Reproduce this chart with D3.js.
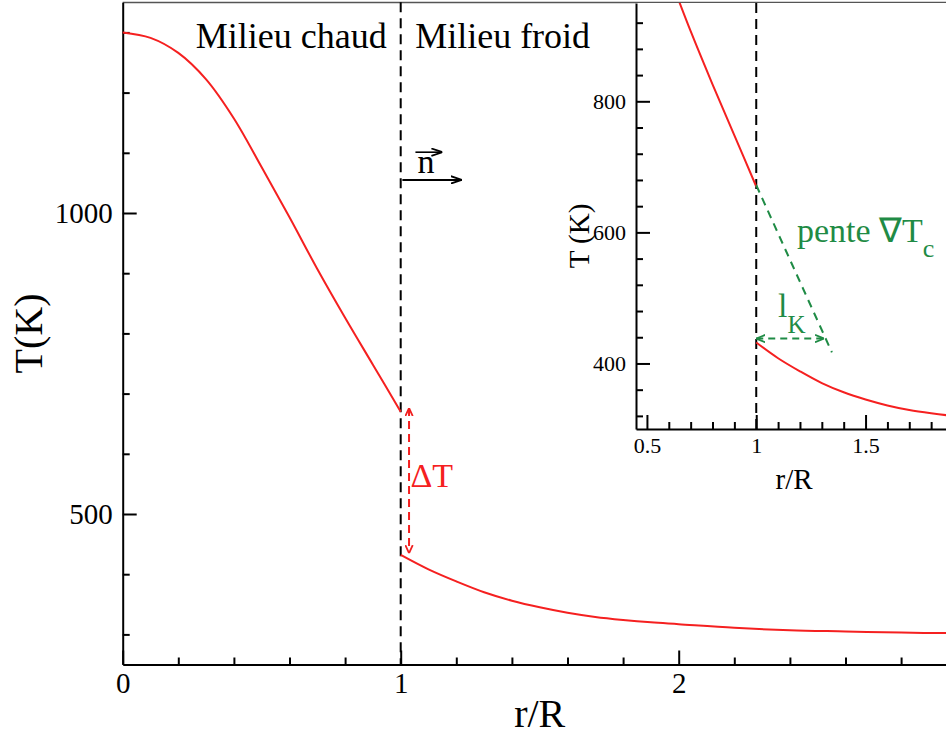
<!DOCTYPE html>
<html><head><meta charset="utf-8">
<script src="https://cdn.jsdelivr.net/npm/d3@7"></script>
<style>
body{margin:0;background:#fff}
svg{display:block}
text{font-family:"Liberation Serif","Times New Roman",serif}
</style>
</head><body>
<svg id="c" width="946" height="735"></svg>
<script>
// ---- data ----
const rHot  = [0, 0.1, 0.2, 0.3, 0.4, 0.5, 0.6, 0.7, 0.8, 0.9, 1.0];
const tHot  = [1300, 1291, 1266, 1222, 1157, 1076, 993, 907, 826, 748, 670];
const rCold = [1.0, 1.1, 1.2, 1.3, 1.4, 1.5, 1.6, 1.7, 1.8, 1.9, 2.0, 2.2, 2.4, 2.6, 2.8, 3.0];
const tCold = [432, 408, 388, 370, 356, 345, 336, 329, 324, 320, 317, 311, 307, 305, 303, 302];
const tangentR = [1.0, 1.346];
const tangentT = [672, 417];
const lkR = [1.0, 1.31];
const lkT = [438, 438];
const deltaR = 1.03;
const deltaT = [676, 435];

const mainXTicks = [0, 1, 2];
const mainYTicks = [500, 1000];
const insetXTicks = [0.5, 1, 1.5];
const insetYTicks = [400, 600, 800];

const svg = d3.select("#c");
const defs = svg.append("defs");
function marker(id, color, w, h){
  const m = defs.append("marker").attr("id", id).attr("viewBox", `0 0 ${w} ${h}`)
    .attr("refX", w).attr("refY", h/2).attr("markerWidth", w).attr("markerHeight", h)
    .attr("markerUnits", "userSpaceOnUse").attr("orient", "auto-start-reverse");
  m.append("path").attr("d", `M0,0.8 L${w},${h/2} L0,${h-0.8}`).attr("fill", "none")
    .attr("stroke", color).attr("stroke-width", 1.8);
}
marker("arrRed", "#f02020", 8, 9);
marker("arrGreen", "#1f8b45", 9, 9);
marker("arrBlack", "#000", 11, 9);

const red = "#f52020", green = "#1f8b45";

// ---- main plot ----
const x = d3.scaleLinear().domain([0, 3]).range([122.7, 956.7]);
const y = d3.scaleLinear().domain([250, 1350]).range([664.5, 2.3]);

function styleAxis(g, fs){
  g.selectAll(".domain").attr("stroke", "#000").attr("stroke-width", 2);
  g.selectAll(".tick line").attr("stroke", "#000").attr("stroke-width", 2);
  g.selectAll("text").attr("font-size", fs).attr("fill", "#000")
    .style("font-family", '"Liberation Serif","Times New Roman",serif');
}

const range = (a, b, s) => d3.range(Math.round(a/s), Math.round(b/s)+1).map(i => +(i*s).toFixed(4));

// top border
svg.append("line").attr("x1", 122.7).attr("x2", 946).attr("y1", 2.6).attr("y2", 2.6)
  .attr("stroke", "#555").attr("stroke-width", 1.5);

const gxm = svg.append("g").attr("transform", `translate(0,${y.range()[0]})`)
  .call(d3.axisBottom(x).tickValues(range(0, 3, 0.2).filter(v => Math.abs(v - Math.round(v)) > 1e-6))
    .tickSizeInner(-7).tickSizeOuter(0).tickFormat(""));
gxm.select(".domain").remove(); styleAxis(gxm, 29);
const gx = svg.append("g").attr("transform", `translate(0,${y.range()[0]})`)
  .call(d3.axisBottom(x).tickValues(mainXTicks).tickSizeInner(-14).tickSizeOuter(0).tickPadding(8).tickFormat(d3.format("d")));
styleAxis(gx, 29);

const gym = svg.append("g").attr("transform", `translate(${x.range()[0]},0)`)
  .call(d3.axisLeft(y).tickValues(range(300, 1300, 100).filter(v => v % 500 !== 0))
    .tickSizeInner(-7).tickSizeOuter(0).tickFormat(""));
gym.select(".domain").remove(); styleAxis(gym, 29);
const gy = svg.append("g").attr("transform", `translate(${x.range()[0]},0)`)
  .call(d3.axisLeft(y).tickValues(mainYTicks).tickSizeInner(-14).tickSizeOuter(0).tickPadding(10).tickFormat(d3.format("d")));
styleAxis(gy, 29);

// axis titles
svg.append("text").attr("x", (x.range()[0] + x.range()[1]) / 2).attr("y", 727)
  .attr("text-anchor", "middle").attr("font-size", 40).text("r/R");
svg.append("text").attr("transform", `translate(42,${(y.range()[0] + y.range()[1]) / 2}) rotate(-90)`)
  .attr("text-anchor", "middle").attr("font-size", 40).text("T(K)");

// interface line
svg.append("line").attr("x1", x(1)).attr("x2", x(1)).attr("y1", y.range()[1]).attr("y2", y.range()[0])
  .attr("stroke", "#000").attr("stroke-width", 2).attr("stroke-dasharray", "10,6");

const line = d3.line().curve(d3.curveCatmullRom.alpha(0.5));
const hotPts = rHot.map((r, i) => [r, tHot[i]]);
const coldPts = rCold.map((r, i) => [r, tCold[i]]);
svg.append("path").attr("d", line(hotPts.map(p => [x(p[0]), y(p[1])])))
  .attr("fill", "none").attr("stroke", red).attr("stroke-width", 2);
svg.append("path").attr("d", line(coldPts.map(p => [x(p[0]), y(p[1])])))
  .attr("fill", "none").attr("stroke", red).attr("stroke-width", 2);

// labels
svg.append("text").attr("x", x(0.95)).attr("y", y(1274)).attr("text-anchor", "end")
  .attr("font-size", 36).text("Milieu chaud");
svg.append("text").attr("x", x(1.052)).attr("y", y(1274)).attr("font-size", 36).text("Milieu froid");

// delta T arrow
svg.append("line").attr("x1", x(deltaR)).attr("x2", x(deltaR)).attr("y1", y(deltaT[0])).attr("y2", y(deltaT[1]))
  .attr("stroke", red).attr("stroke-width", 2).attr("stroke-dasharray", "8,5")
  .attr("marker-start", "url(#arrRed)").attr("marker-end", "url(#arrRed)");
svg.append("text").attr("x", x(1.035)).attr("y", y(545)).attr("font-size", 34).attr("fill", red).text("ΔT");

// normal vector n
svg.append("line").attr("x1", x(1.006)).attr("x2", x(1.22)).attr("y1", y(1055)).attr("y2", y(1055))
  .attr("stroke", "#000").attr("stroke-width", 2).attr("marker-end", "url(#arrBlack)");
svg.append("text").attr("x", x(1.06)).attr("y", y(1066)).attr("font-size", 34).text("n");
svg.append("line").attr("x1", x(1.053)).attr("x2", x(1.15)).attr("y1", y(1101)).attr("y2", y(1101))
  .attr("stroke", "#000").attr("stroke-width", 1.6).attr("marker-end", "url(#arrBlack)");

// ---- inset ----
const xi = d3.scaleLinear().domain([0.45, 1.9]).range([636, 953]);
const yi = d3.scaleLinear().domain([300, 950]).range([429, 3]);
svg.append("rect").attr("x", 636).attr("y", 3).attr("width", 320).attr("height", 426).attr("fill", "#fff");

const ixm = svg.append("g").attr("transform", `translate(0,${yi.range()[0]})`)
  .call(d3.axisBottom(xi).tickValues(range(0.5, 1.9, 0.1).filter(v => Math.abs(v*2 - Math.round(v*2)) > 1e-6))
    .tickSizeInner(-7).tickSizeOuter(0).tickFormat(""));
ixm.select(".domain").remove(); styleAxis(ixm, 22);
const ix = svg.append("g").attr("transform", `translate(0,${yi.range()[0]})`)
  .call(d3.axisBottom(xi).tickValues(insetXTicks).tickSizeInner(-14).tickSizeOuter(0).tickPadding(8).tickFormat(d => String(d)));
styleAxis(ix, 22);
const iym = svg.append("g").attr("transform", `translate(${xi.range()[0]},0)`)
  .call(d3.axisLeft(yi).tickValues(range(320, 920, 40).filter(v => v % 200 !== 0))
    .tickSizeInner(-7).tickSizeOuter(0).tickFormat(""));
iym.select(".domain").remove(); styleAxis(iym, 22);
const iy = svg.append("g").attr("transform", `translate(${xi.range()[0]},0)`)
  .call(d3.axisLeft(yi).tickValues(insetYTicks).tickSizeInner(-14).tickSizeOuter(0).tickPadding(10).tickFormat(d3.format("d")));
styleAxis(iy, 22);

svg.append("text").attr("x", 794).attr("y", 489).attr("text-anchor", "middle").attr("font-size", 29).text("r/R");
svg.append("text").attr("transform", `translate(589,236) rotate(-90)`)
  .attr("text-anchor", "middle").attr("font-size", 29).text("T (K)");

const clip = defs.append("clipPath").attr("id", "insetClip");
clip.append("rect").attr("x", 636).attr("y", 3).attr("width", 320).attr("height", 426);
const gi = svg.append("g").attr("clip-path", "url(#insetClip)");
gi.append("line").attr("x1", xi(1)).attr("x2", xi(1)).attr("y1", yi.range()[1]).attr("y2", yi.range()[0])
  .attr("stroke", "#000").attr("stroke-width", 2).attr("stroke-dasharray", "10,6");
gi.append("path").attr("d", line(hotPts.map(p => [xi(p[0]), yi(p[1])])))
  .attr("fill", "none").attr("stroke", red).attr("stroke-width", 2);
gi.append("path").attr("d", line(coldPts.map(p => [xi(p[0]), yi(p[1])])))
  .attr("fill", "none").attr("stroke", red).attr("stroke-width", 2);
gi.append("line").attr("x1", xi(tangentR[0])).attr("x2", xi(tangentR[1])).attr("y1", yi(tangentT[0])).attr("y2", yi(tangentT[1]))
  .attr("stroke", green).attr("stroke-width", 2).attr("stroke-dasharray", "8,6");
gi.append("line").attr("x1", xi(lkR[0])).attr("x2", xi(lkR[1])).attr("y1", yi(lkT[0])).attr("y2", yi(lkT[1]))
  .attr("stroke", green).attr("stroke-width", 2).attr("stroke-dasharray", "7,5")
  .attr("marker-start", "url(#arrGreen)").attr("marker-end", "url(#arrGreen)");

const tp = svg.append("text").attr("x", xi(1.186)).attr("y", yi(585)).attr("font-size", 34).attr("fill", green);
tp.append("tspan").text("pente ∇T");
tp.append("tspan").attr("dy", 15).attr("font-size", 26).text("c");
const tl = svg.append("text").attr("x", xi(1.1)).attr("y", yi(471)).attr("font-size", 34).attr("fill", green);
tl.append("tspan").text("l");
tl.append("tspan").attr("dy", 16).attr("font-size", 25).text("K");
</script>
</body></html>
